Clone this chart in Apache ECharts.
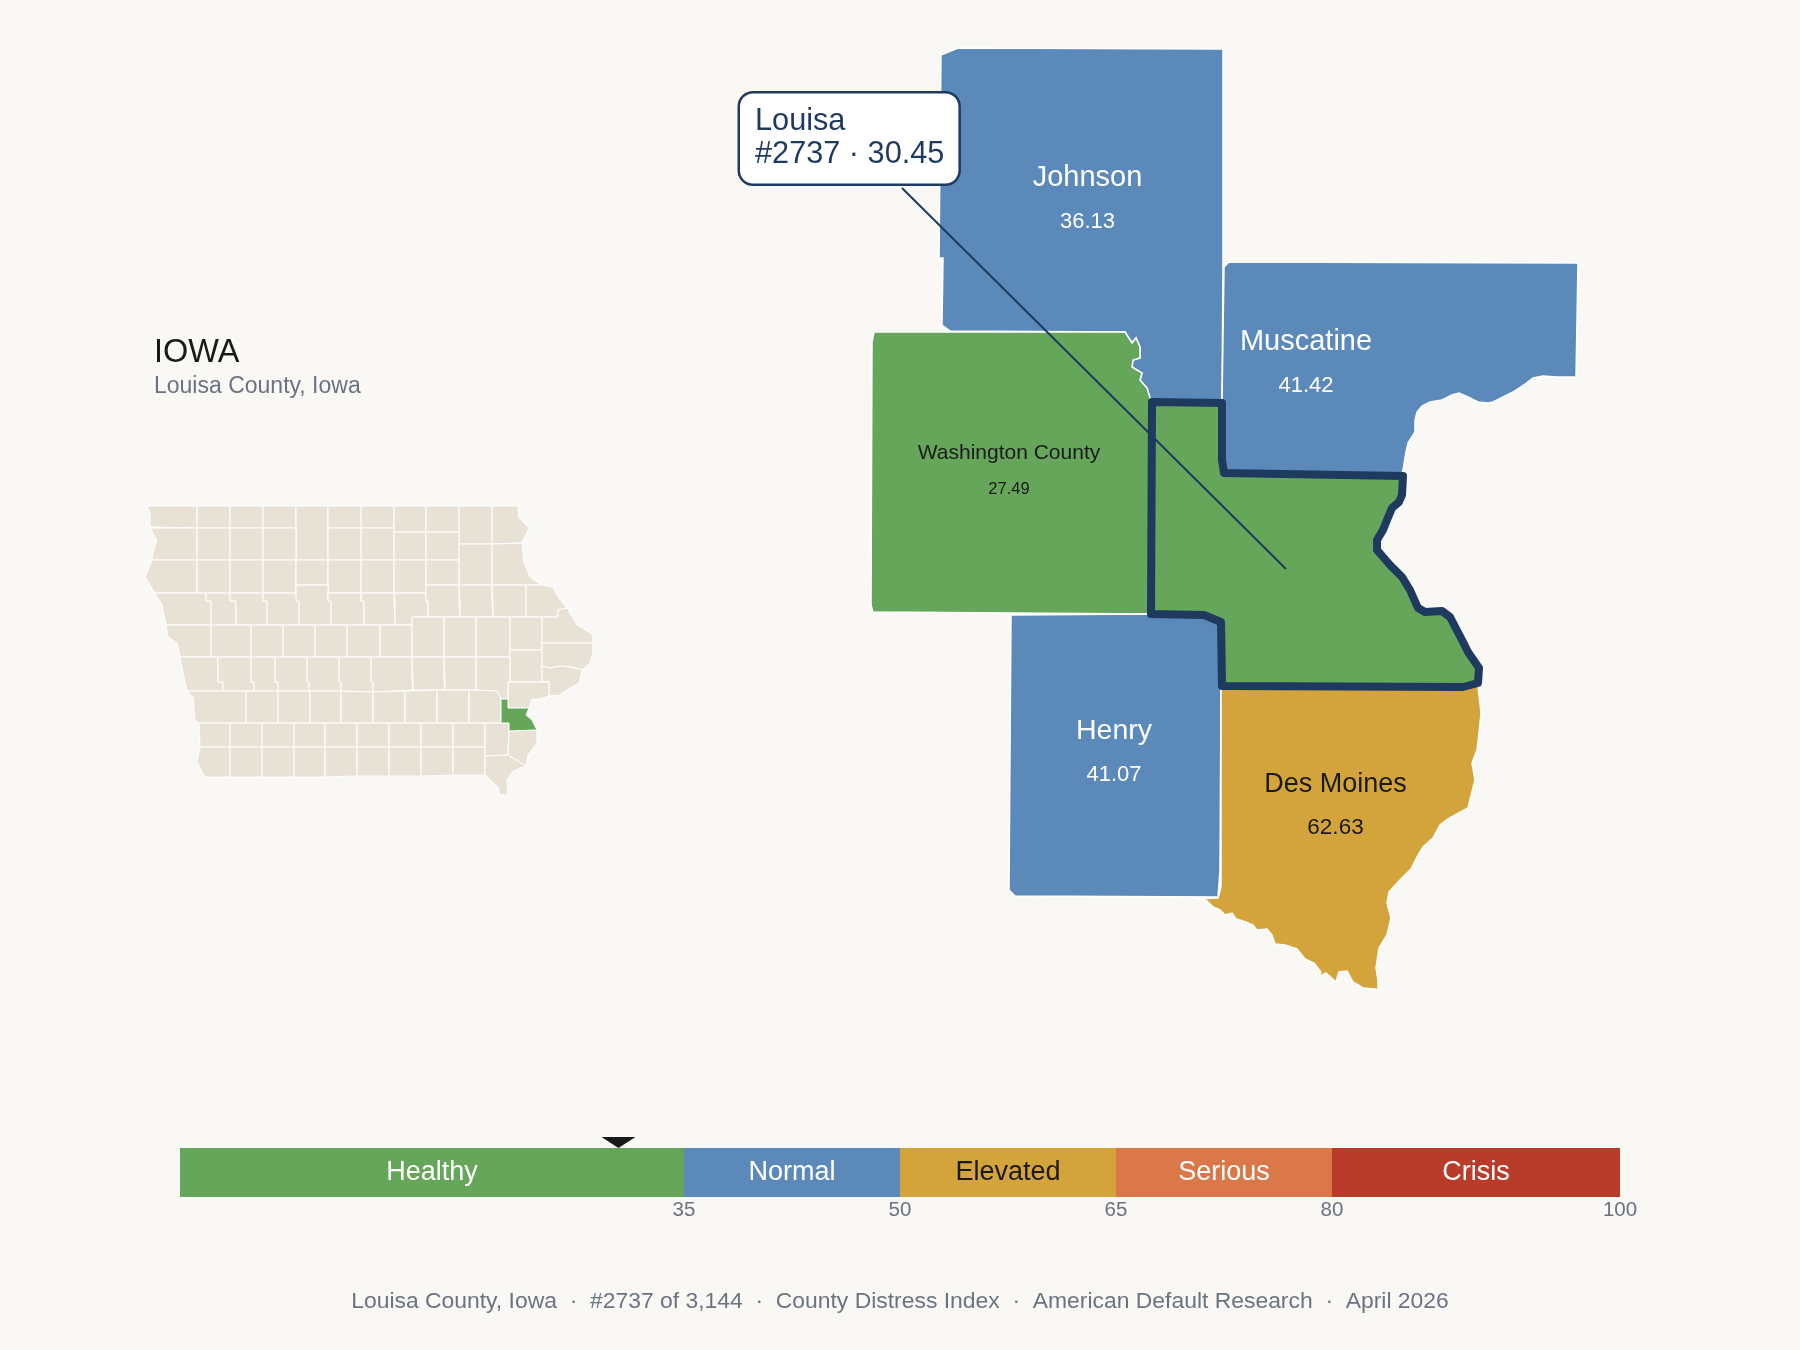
<!DOCTYPE html>
<html>
<head>
<meta charset="utf-8">
<style>
html, body { margin: 0; background: #faf8f5; }
#main { width: 1800px; height: 1350px; }
</style>
<script src="https://cdn.jsdelivr.net/npm/echarts@6/dist/echarts.min.js"></script>
</head>
<body>
<div id="main"></div>
<script>
// scores
var countyNames = ['Johnson', 'Muscatine', 'Washington County', 'Henry', 'Des Moines'];
var countyScores = [36.13, 41.42, 27.49, 41.07, 62.63];
var focusName = 'Louisa';
var focusScore = 30.45;
var focusRank = 2737;
var countyTotal = '3,144';

// distress bands
var bandNames = ['Healthy', 'Normal', 'Elevated', 'Serious', 'Crisis'];
var bandTops = [35, 50, 65, 80, 100];
var bandSpans = [35, 15, 15, 15, 20];
var bandColors = ['#66a65a', '#5b89b9', '#d3a43b', '#da7849', '#b93c2a'];
var bandTextColors = ['#fff', '#fff', '#1a1a1a', '#fff', '#fff'];

// outlines of the neighbouring counties, map units with y pointing down
var johnsonRing = [[941,55],[958,48],[1223,49],[1223,260],[1222,403],[1152,403],[1150,398],[1147,388],[1140,380],[1142,373],[1132,367],[1133,360],[1140,358],[1140,347],[1136,338],[1132,343],[1125,332],[950,331],[942,325],[943,258],[939,258]];
var muscatineRing = [[1224,267],[1229,262],[1578,263],[1576,377],[1557,377],[1543,376],[1533,378],[1525,384],[1513,392],[1503,397],[1493,402],[1488,403],[1478,402],[1468,397],[1459,393],[1452,395],[1442,400],[1430,402],[1422,406],[1417,412],[1415,420],[1415,432],[1408,443],[1406,452],[1403,470],[1402,476],[1224,473],[1222,460],[1222,403]];
var washingtonRing = [[874,332],[1125,332],[1132,343],[1136,338],[1140,347],[1140,358],[1133,360],[1132,367],[1142,373],[1140,380],[1147,388],[1150,398],[1152,402],[1151,614],[873,612],[871,605],[872,342]];
var henryRing = [[1011,615],[1151,614],[1204,615],[1221,622],[1221,689],[1220,870],[1218,897],[1015,896],[1009,890]];
var desMoinesRing = [[1221,686],[1478,686],[1481,713],[1479,733],[1477,750],[1472,763],[1475,780],[1470,800],[1468,808],[1448,819],[1440,825],[1433,838],[1423,847],[1417,857],[1411,869],[1398,882],[1389,892],[1387,903],[1391,918],[1387,935],[1379,948],[1376,968],[1378,980],[1378,990],[1375,989],[1363,988],[1353,982],[1347,971],[1339,972],[1336,982],[1326,973],[1319,977],[1321,972],[1314,963],[1305,959],[1297,949],[1285,945],[1275,944],[1272,935],[1267,929],[1257,930],[1253,925],[1243,921],[1236,919],[1232,913],[1225,915],[1220,910],[1213,907],[1207,901],[1199,899],[1218,898],[1221,887]];
var louisaRing = [[1152,402],[1222,403],[1222,460],[1224,473],[1403,476],[1402,495],[1399,502],[1392,508],[1387,520],[1383,530],[1377,540],[1377,550],[1390,565],[1402,577],[1410,590],[1418,608],[1425,612],[1442,611],[1450,617],[1462,640],[1468,652],[1479,668],[1478,683],[1463,687],[1222,686],[1221,622],[1204,615],[1151,614]];
var countyRings = [johnsonRing, muscatineRing, washingtonRing, henryRing, desMoinesRing];

// where the county captions and the callout sit on the detail map
var captionAnchors = [[1087.5,199.5],[1306,363.5],[1009,471.5],[1114,753],[1335.5,806]];
var calloutAnchor = [740,138.5];
var leaderLine = [[902,188],[1286,569]];

// state outline, one ring per county
var stateRings = [
  [[147,506],[197,506],[197,528],[150,527],[150,513]],
  [[197,506],[230,506],[230,528],[197,528]],
  [[230,506],[263,506],[263,528],[230,528]],
  [[263,506],[296,506],[296,528],[263,528]],
  [[296,506],[328,506],[328,560],[296,560]],
  [[328,506],[361,506],[361,528],[328,528]],
  [[361,506],[394,506],[394,528],[361,528]],
  [[394,506],[426,506],[426,532],[394,532]],
  [[426,506],[459,506],[459,532],[426,532]],
  [[459,506],[492,506],[492,544],[459,544]],
  [[492,506],[518,506],[519,518],[529,528],[522,543],[492,544]],
  [[150,528],[197,528],[197,560],[152,560],[153,553],[157,540]],
  [[197,528],[230,528],[230,560],[197,560]],
  [[230,528],[263,528],[263,560],[230,560]],
  [[263,528],[296,528],[296,560],[263,560]],
  [[328,528],[361,528],[361,560],[328,560]],
  [[361,528],[394,528],[394,560],[361,560]],
  [[394,532],[426,532],[426,560],[394,560]],
  [[426,532],[459,532],[459,560],[426,560]],
  [[459,544],[492,544],[492,585],[459,585]],
  [[492,544],[522,543],[524,562],[530,577],[541,585],[492,585]],
  [[152,560],[197,560],[197,593],[155,593],[145,577]],
  [[197,560],[230,560],[230,593],[197,593]],
  [[230,560],[263,560],[263,593],[230,593]],
  [[263,560],[296,560],[296,593],[263,593]],
  [[296,560],[328,560],[328,585],[296,585]],
  [[328,560],[361,560],[361,593],[328,593]],
  [[361,560],[394,560],[394,593],[361,593]],
  [[394,560],[426,560],[426,593],[394,593]],
  [[426,560],[459,560],[459,585],[426,585]],
  [[155,593],[206,593],[206,601],[211,601],[211,625],[166,625],[162,605]],
  [[206,593],[230,593],[230,601],[236,601],[236,625],[211,625],[211,601],[206,601]],
  [[230,593],[263,593],[263,601],[267,601],[267,625],[236,625],[236,601],[230,601]],
  [[263,593],[296,593],[296,601],[299,601],[299,625],[267,625],[267,601],[263,601]],
  [[296,585],[328,585],[328,601],[331,601],[331,625],[299,625],[299,601],[296,601]],
  [[328,593],[361,593],[361,601],[364,601],[364,625],[331,625],[331,601],[328,601]],
  [[361,593],[394,593],[394,601],[395,601],[395,625],[364,625],[364,601],[361,601]],
  [[394,593],[426,593],[426,601],[428,601],[428,617],[412,617],[412,625],[395,625],[395,601],[394,601]],
  [[426,585],[459,585],[459,601],[460,601],[460,617],[428,617],[428,601],[426,601]],
  [[459,585],[492,585],[492,601],[493,601],[493,617],[460,617],[460,601],[459,601]],
  [[492,585],[526,585],[526,617],[493,617],[493,601],[492,601]],
  [[526,585],[541,585],[553,587],[558,597],[567,608],[558,610],[558,617],[526,617]],
  [[166,625],[211,625],[211,657],[180,657],[177,643],[168,637]],
  [[211,625],[251,625],[251,657],[211,657]],
  [[251,625],[283,625],[283,657],[251,657]],
  [[283,625],[315,625],[315,657],[283,657]],
  [[315,625],[347,625],[347,657],[315,657]],
  [[347,625],[380,625],[380,657],[347,657]],
  [[380,625],[412,625],[412,657],[380,657]],
  [[412,617],[444,617],[444,657],[412,657]],
  [[444,617],[476,617],[476,657],[444,657]],
  [[476,617],[510,617],[510,657],[476,657]],
  [[510,617],[542,617],[542,650],[510,650]],
  [[542,617],[558,617],[558,610],[567,608],[573,618],[577,625],[592,634],[593,643],[542,643]],
  [[510,650],[542,650],[542,682],[510,682]],
  [[542,643],[593,643],[593,653],[590,663],[582,670],[570,667],[560,666],[550,668],[542,666]],
  [[542,666],[550,668],[560,666],[570,667],[582,670],[579,683],[567,690],[560,695],[549,696],[549,682],[542,682]],
  [[510,682],[549,682],[549,696],[540,699],[532,699],[529,708],[508,708],[508,682]],
  [[180,657],[218,657],[218,682],[223,682],[223,691],[187,691],[183,673]],
  [[218,657],[251,657],[251,682],[254,682],[254,691],[223,691],[223,682],[218,682]],
  [[251,657],[275,657],[275,682],[278,682],[278,691],[254,691],[254,682],[251,682]],
  [[275,657],[307,657],[307,682],[309,682],[309,691],[278,691],[278,682],[275,682]],
  [[307,657],[339,657],[339,682],[341,682],[341,691],[309,691],[309,682],[307,682]],
  [[339,657],[371,657],[371,682],[373,682],[373,692],[341,691],[341,682],[339,682]],
  [[371,657],[412,657],[412,682],[413,682],[413,690],[373,692],[373,682],[371,682]],
  [[412,657],[444,657],[444,682],[445,682],[445,690],[413,690],[413,682],[412,682]],
  [[444,657],[476,657],[476,690],[445,690],[445,682],[444,682]],
  [[476,657],[510,657],[510,682],[508,682],[508,699],[501,699],[497,691],[476,690]],
  [[187,691],[246,691],[246,723],[199,723],[195,720],[193,697]],
  [[246,691],[278,691],[278,723],[246,723]],
  [[278,691],[310,691],[310,723],[278,723]],
  [[310,691],[341,691],[341,723],[310,723]],
  [[341,691],[373,692],[373,723],[341,723]],
  [[373,692],[405,691],[405,723],[373,723]],
  [[405,691],[437,690],[437,723],[405,723]],
  [[437,690],[469,690],[469,723],[437,723]],
  [[469,690],[497,691],[501,699],[501,723],[469,723]],
  [[199,723],[230,723],[230,747],[200,747]],
  [[230,723],[262,723],[262,747],[230,747]],
  [[262,723],[294,723],[294,747],[262,747]],
  [[294,723],[325,723],[325,747],[294,747]],
  [[325,723],[357,723],[357,747],[325,747]],
  [[357,723],[389,723],[389,747],[357,747]],
  [[389,723],[421,723],[421,747],[389,747]],
  [[421,723],[453,723],[453,747],[421,747]],
  [[453,723],[485,723],[485,747],[453,747]],
  [[200,747],[230,747],[230,777],[205,777],[197,762]],
  [[230,747],[262,747],[262,777],[230,777]],
  [[262,747],[294,747],[294,777],[262,777]],
  [[294,747],[325,747],[325,777],[294,777]],
  [[325,747],[357,747],[357,776],[325,777]],
  [[357,747],[389,747],[389,776],[357,776]],
  [[389,747],[421,747],[421,776],[389,776]],
  [[421,747],[453,747],[453,775],[421,776]],
  [[453,747],[485,747],[485,775],[453,775]],
  [[485,723],[509,723],[508,755],[485,756]],
  [[509,731],[537,730],[537,743],[528,755],[526,766],[508,755]],
  [[485,756],[508,755],[526,766],[513,771],[507,780],[508,795],[500,795],[498,787],[490,780],[485,774]]
];
var stateFocusRing = [[501,699],[508,699],[508,708],[529,708],[526,715],[532,720],[537,730],[509,731],[509,723],[501,723]];

function bandColor(score) {
    for (var i = 0; i < bandTops.length; i++) {
        if (score < bandTops[i]) return bandColors[i];
    }
    return bandColors[bandColors.length - 1];
}

function toGeoJSON(names, rings) {
    return {
        type: 'FeatureCollection',
        features: rings.map(function (ring, i) {
            return {
                type: 'Feature',
                properties: { name: names[i] },
                geometry: { type: 'Polygon', coordinates: [ring.concat([ring[0]])] }
            };
        })
    };
}

// place a map so one map unit is one pixel
function place(rings) {
    var xs = [], ys = [];
    rings.forEach(function (ring) {
        ring.forEach(function (p) { xs.push(p[0]); ys.push(p[1]); });
    });
    var x0 = Math.min.apply(null, xs), x1 = Math.max.apply(null, xs);
    var y0 = Math.min.apply(null, ys), y1 = Math.max.apply(null, ys);
    return {
        layoutCenter: [(x0 + x1) / 2, (y0 + y1) / 2],
        layoutSize: Math.max(x1 - x0, y1 - y0)
    };
}

var flat = { project: function (p) { return p; }, unproject: function (p) { return p; } };

var detailRings = countyRings.concat([louisaRing]);
var detailNames = countyNames.concat([focusName]);
var stateAll = stateRings.concat([stateFocusRing]);
var stateNames = stateRings.map(function (r, i) { return 'c' + i; }).concat([focusName]);

echarts.registerMap('detail', toGeoJSON(detailNames, detailRings));
echarts.registerMap('state', toGeoJSON(stateNames, stateAll));

var detailPlace = place(detailRings);
var statePlace = place(stateAll);

var darkCaption = { 'Washington County': true, 'Des Moines': true };
var captionSizes = {
    'Johnson': [29, 22, 44],
    'Muscatine': [29, 22, 44],
    'Washington County': [21, 16.5, 36],
    'Henry': [28.5, 22, 44],
    'Des Moines': [27, 22.5, 43]
};

var font = '"Liberation Sans", Arial, sans-serif';

var detailRegions = countyNames.map(function (name, i) {
    return { name: name, itemStyle: { areaColor: bandColor(countyScores[i]) } };
});
detailRegions.push({
    name: focusName,
    itemStyle: {
        areaColor: bandColor(focusScore),
        borderColor: '#1e3a5f',
        borderWidth: 8,
        borderJoin: 'round'
    }
});

var captionData = countyNames.map(function (name, i) {
    var s = captionSizes[name];
    var color = darkCaption[name] ? '#1a1a1a' : '#fff';
    return {
        name: name,
        value: captionAnchors[i].concat([countyScores[i]]),
        label: {
            rich: {
                n: { fontFamily: font, fontSize: s[0], lineHeight: s[2], color: color },
                v: { fontFamily: font, fontSize: s[1], lineHeight: s[2], color: color }
            }
        }
    };
});

var bandSeries = bandNames.map(function (name, i) {
    return {
        type: 'bar',
        name: name,
        stack: 'bands',
        xAxisIndex: 0,
        yAxisIndex: 0,
        barWidth: '100%',
        data: [bandSpans[i]],
        itemStyle: { color: bandColors[i] },
        silent: true,
        label: {
            show: true,
            position: 'inside',
            formatter: '{a}',
            fontFamily: font,
            fontSize: 27,
            color: bandTextColors[i]
        }
    };
});

var footerText = [
    'Louisa County, Iowa',
    '#' + focusRank + ' of ' + countyTotal,
    'County Distress Index',
    'American Default Research',
    'April 2026'
].join('  \u00b7  ');

var option = {
    animation: false,
    backgroundColor: '#faf8f5',
    title: [
        { text: 'IOWA', left: 149, top: 331.5, textStyle: { fontFamily: font, fontSize: 32.5, fontWeight: 'normal', color: '#1a1a1a' } },
        { text: 'Louisa County, Iowa', left: 149, top: 370, textStyle: { fontFamily: font, fontSize: 23, fontWeight: 'normal', color: '#6b7280' } },
        { text: footerText, left: 'center', top: 1285, textStyle: { fontFamily: font, fontSize: 22.9, fontWeight: 'normal', color: '#6b7280' } }
    ],
    geo: [
        {
            map: 'detail',
            projection: flat,
            layoutCenter: detailPlace.layoutCenter,
            layoutSize: detailPlace.layoutSize,
            silent: true,
            label: { show: false },
            itemStyle: { borderColor: '#fff', borderWidth: 1.5 },
            regions: detailRegions
        },
        {
            map: 'state',
            projection: flat,
            layoutCenter: statePlace.layoutCenter,
            layoutSize: statePlace.layoutSize,
            silent: true,
            label: { show: false },
            itemStyle: { areaColor: '#e8e2d6', borderColor: '#fff', borderWidth: 1 },
            regions: [{ name: focusName, itemStyle: { areaColor: bandColor(focusScore) } }]
        }
    ],
    grid: { left: 180, width: 1440, top: 1148, height: 49, containLabel: false },
    xAxis: {
        type: 'value',
        min: 0,
        max: 100,
        splitLine: { show: false },
        axisLine: { show: false },
        axisTick: { show: false },
        axisLabel: {
            customValues: bandTops,
            margin: 3,
            fontFamily: font,
            fontSize: 20.5,
            color: '#6b7280'
        }
    },
    yAxis: {
        type: 'category',
        data: ['bands'],
        axisLine: { show: false },
        axisTick: { show: false },
        axisLabel: { show: false }
    },
    series: bandSeries.concat([
        {
            type: 'scatter',
            name: 'marker',
            xAxisIndex: 0,
            yAxisIndex: 0,
            silent: true,
            symbol: 'triangle',
            symbolRotate: 180,
            symbolSize: [34, 11],
            symbolOffset: [0, -30],
            itemStyle: { color: '#1a1a1a', opacity: 1 },
            data: [[focusScore, 'bands']],
            z: 5
        },
        {
            type: 'scatter',
            name: 'captions',
            coordinateSystem: 'geo',
            geoIndex: 0,
            silent: true,
            symbolSize: 0,
            itemStyle: { opacity: 1 },
            label: {
                show: true,
                position: 'inside',
                formatter: function (p) {
                    return '{n|' + p.name + '}\n{v|' + p.value[2].toFixed(2) + '}';
                }
            },
            data: captionData,
            z: 4
        },
        {
            type: 'lines',
            name: 'leader',
            coordinateSystem: 'geo',
            geoIndex: 0,
            silent: true,
            lineStyle: { color: '#1e3a5f', width: 2, opacity: 1, curveness: 0 },
            data: [{ coords: leaderLine }],
            z: 5
        },
        {
            type: 'scatter',
            name: 'callout',
            coordinateSystem: 'geo',
            geoIndex: 0,
            silent: true,
            symbolSize: 0,
            itemStyle: { opacity: 1 },
            data: [{ name: focusName, value: calloutAnchor.concat([focusScore]) }],
            label: {
                show: true,
                position: 'inside',
                align: 'left',
                verticalAlign: 'middle',
                formatter: function (p) {
                    return p.name + '\n#' + focusRank + ' \u00b7 ' + p.value[2].toFixed(2);
                },
                fontFamily: font,
                fontSize: 30.7,
                lineHeight: 33,
                color: '#1e3a5f',
                backgroundColor: '#fff',
                borderColor: '#1e3a5f',
                borderWidth: 2.5,
                borderRadius: 13,
                padding: [12, 14, 12, 15]
            },
            z: 6
        }
    ])
};

var chart = echarts.init(document.getElementById('main'));
chart.setOption(option);
</script>
</body>
</html>
